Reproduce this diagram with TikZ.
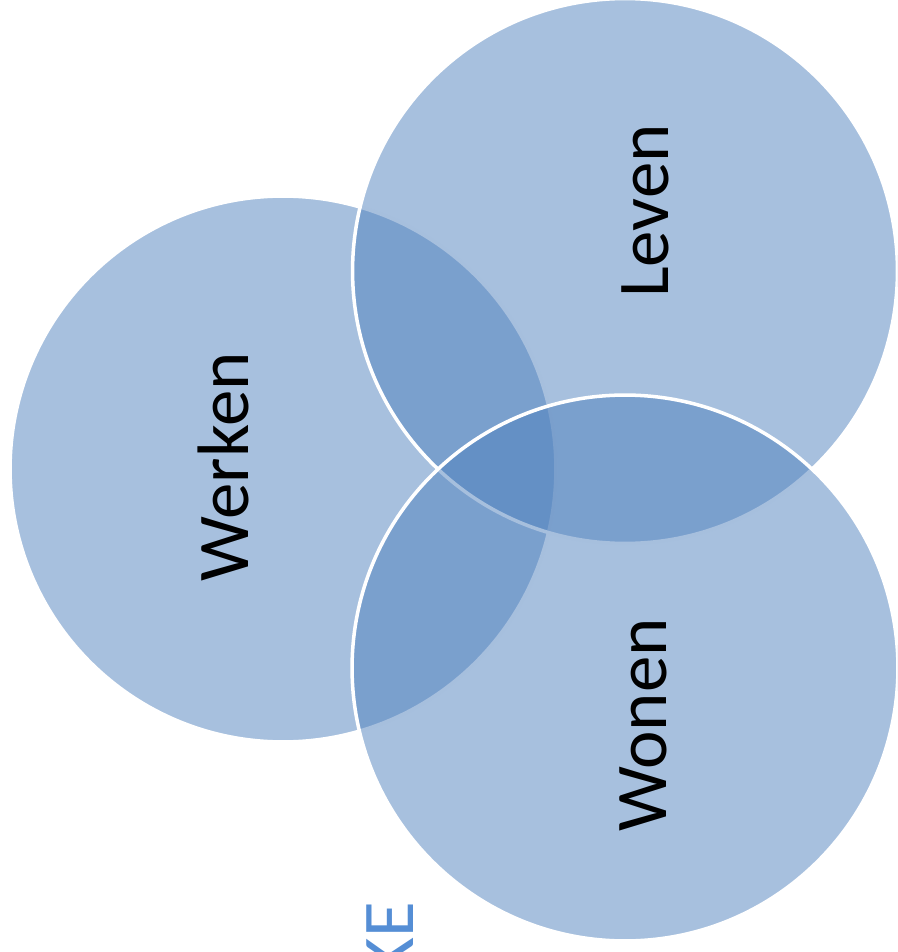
\documentclass[tikz,border=0pt]{standalone}
\usepackage{fontspec}
\setmainfont{Carlito}
\definecolor{vennblue}{RGB}{79,129,189}
\definecolor{titleblue}{RGB}{85,142,213}
\tikzset{
  venn/.style = {fill=vennblue, fill opacity=0.5, draw=white, line width=2pt},
  vennlabel/.style = {rotate=90, anchor=base, text=black, font=\fontsize{41.5}{50}\selectfont},
}
\begin{document}
\begin{tikzpicture}[x=0.02cm, y=-0.02cm]
% page frame
%-----------------------------------------------------------%
  \useasboundingbox (0,0) rectangle (897,952);
  \clip (0,0) rectangle (897,952);
% circles
%-----------------------------------------------------------%
% werken
  \draw[venn] (283,469) circle[radius = 5.46cm];
% leven
  \draw[venn] (625,271) circle[radius = 5.45cm];
% wonen
  \draw[venn] (625,668) circle[radius = 5.46cm];
% labels
%-----------------------------------------------------------%
  \node[vennlabel] (werken) at (248,467) {Werken};
  \node[vennlabel] (leven) at (668,211) {Leven};
  \node[vennlabel] (wonen) at (666,725) {Wonen};
% cut off title
  \node[rotate=90, anchor=base east, text=titleblue,
        font=\fontsize{41.5}{50}\selectfont] (title) at (413,896) {KE};
\end{tikzpicture}
\end{document}
